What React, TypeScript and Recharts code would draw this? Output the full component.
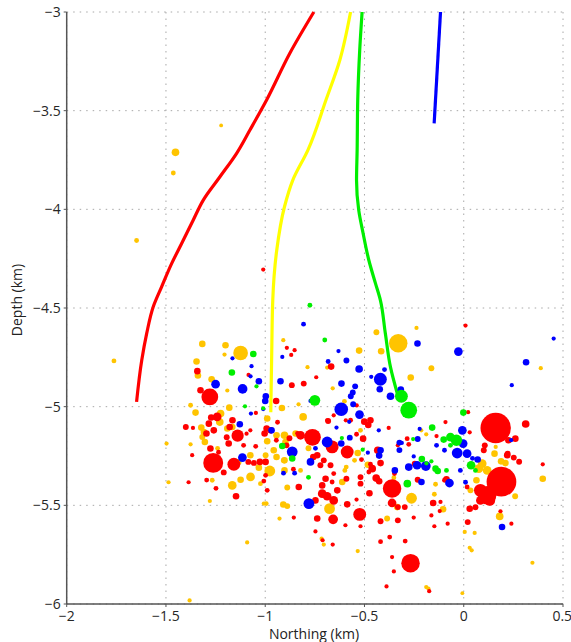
import { CartesianGrid, Scatter, ScatterChart, XAxis, YAxis } from 'recharts';

const X_TICKS = [-2, -1.5, -1, -0.5, 0, 0.5];
const Y_TICKS = [-6, -5.5, -5, -4.5, -4, -3.5, -3];

// well trajectories: [northing km, depth km]
const redWell = [
  [-0.755, -3.0], [-0.876, -3.209], [-0.993, -3.446], [-1.077, -3.598], [-1.144, -3.716],
  [-1.228, -3.835], [-1.312, -3.953], [-1.363, -4.055], [-1.421, -4.173], [-1.471, -4.274],
  [-1.522, -4.393], [-1.564, -4.494], [-1.597, -4.629], [-1.622, -4.765], [-1.648, -4.976],
];
const yellowWell = [
  [-0.57, -3.0], [-0.624, -3.243], [-0.694, -3.446], [-0.785, -3.7], [-0.861, -3.852],
  [-0.903, -3.987], [-0.942, -4.207], [-0.962, -4.46], [-0.967, -4.714], [-0.972, -5.028],
];
const greenWell = [
  [-0.512, -3.0], [-0.524, -3.193], [-0.534, -3.446], [-0.537, -3.7], [-0.54, -3.852],
  [-0.529, -4.004], [-0.507, -4.121], [-0.478, -4.258], [-0.445, -4.374], [-0.42, -4.46],
  [-0.395, -4.628], [-0.369, -4.8], [-0.335, -4.932],
];
const blueWell = [[-0.117, -3.0], [-0.149, -3.564]];

// events: [northing km, depth km, magnitude]
const redEvents = [
  [-1.01, -4.305, 0.06], [-1.342, -4.82, 0.4], [-1.084, -4.839, 0.06], [-1.326, -4.917, 0.4],
  [-1.279, -4.951, 1.85], [-0.866, -4.891, 0.3], [-0.806, -4.883, 0.3], [-0.743, -4.851, 0.06],
  [-0.891, -4.702, 0.06], [-0.852, -4.714, 0.06], [-0.869, -4.738, 0.06], [-1.242, -5.052, 0.7],
  [-0.945, -4.971, 0.4], [-1.047, -5.032, 0.06], [0.009, -4.589, 0.06], [-0.668, -4.797, 0.4],
  [-0.539, -4.994, 0.06], [-0.501, -5.076, 0.4], [-0.481, -5.093, 0.4], [-0.47, -5.069, 0.4],
  [-0.594, -5.069, 0.06], [0.022, -5.028, 0.06], [-0.683, -5.073, 0.3], [-0.762, -5.155, 1.85],
  [-0.822, -5.145, 0.7], [-0.587, -5.23, 1.3], [-0.663, -5.204, 1.3], [-0.378, -5.108, 0.06],
  [-0.332, -5.196, 0.06], [-0.137, -5.149, 0.06], [-0.092, -5.078, 0.06], [-0.507, -5.162, 0.4],
  [-0.515, -5.268, 0.15], [-0.433, -5.221, 0.55], [-0.419, -5.286, 0.4], [-0.47, -5.292, 0.15],
  [-0.478, -5.331, 0.15], [-0.285, -5.162, 0.15], [-0.277, -5.191, 0.15], [-0.247, -5.289, 0.3],
  [-0.232, -5.37, 0.3], [-0.361, -5.415, 2.1], [-0.52, -5.357, 0.3], [-0.591, -5.365, 0.3],
  [-0.637, -5.424, 0.4], [-0.696, -5.365, 0.4], [-0.713, -5.399, 0.4], [-0.663, -5.382, 0.15],
  [-0.738, -5.246, 0.4], [-0.758, -5.255, 0.4], [-0.705, -5.272, 0.3], [-0.722, -5.297, 0.3],
  [-0.671, -5.297, 0.3], [-0.655, -5.339, 0.15], [-0.57, -5.069, 0.15], [-0.54, -5.14, 0.15],
  [-0.688, -5.069, 0.06], [-0.655, -5.044, 0.06], [-0.524, -5.546, 1.3], [-0.658, -5.571, 0.85],
  [-0.361, -5.488, 0.7], [-0.268, -5.793, 2.1], [-0.713, -5.441, 0.7], [-0.688, -5.454, 0.7],
  [-0.655, -5.475, 0.7], [-0.747, -5.475, 0.4], [-0.856, -5.562, 0.06], [-0.738, -5.567, 0.4],
  [-0.747, -5.632, 0.06], [-0.711, -5.677, 0.06], [-0.66, -5.699, 0.06], [-0.596, -5.601, 0.06],
  [-0.52, -5.606, 0.06], [-0.419, -5.684, 0.15], [-0.373, -5.661, 0.15], [-0.295, -5.681, 0.15],
  [-0.361, -5.762, 0.06], [-0.352, -5.835, 0.06], [-0.389, -5.911, 0.06], [-0.174, -5.935, 0.06],
  [-0.419, -5.581, 0.3], [-0.332, -5.576, 0.3], [-0.252, -5.562, 0.06], [-0.332, -5.509, 0.3],
  [-0.297, -5.509, 0.3], [-0.475, -5.439, 0.4], [-0.426, -5.378, 0.4], [-0.52, -5.39, 0.3],
  [-0.54, -5.471, 0.06], [-0.587, -5.495, 0.4], [-0.461, -5.314, 0.55], [-0.441, -5.362, 0.55],
  [-0.349, -5.339, 0.15], [-0.154, -5.488, 0.4], [-0.117, -5.483, 0.06], [-0.121, -5.529, 0.06],
  [-0.163, -5.551, 0.06], [-0.148, -5.606, 0.06], [-0.081, -5.593, 0.06], [-0.087, -5.368, 0.4],
  [0.19, -5.38, 3.7], [0.118, -5.449, 2.1], [0.084, -5.424, 1.3], [0.131, -5.475, 1.0],
  [0.084, -5.475, 0.7], [0.161, -5.108, 3.8], [0.221, -5.238, 0.3], [0.252, -5.258, 0.3],
  [0.279, -5.279, 0.3], [0.185, -5.53, 0.06], [0.24, -5.593, 0.06], [0.02, -5.585, 0.3],
  [0.03, -5.517, 0.4], [0.059, -5.51, 0.3], [0.398, -5.292, 0.06], [0.03, -5.13, 0.06],
  [0.312, -5.088, 0.55], [0.225, -5.17, 0.4], [0.26, -5.162, 0.4], [0.106, -5.196, 0.3],
  [0.101, -5.221, 0.3], [0.219, -5.246, 0.4], [0.017, -5.407, 0.15], [-0.097, -5.373, 0.15],
  [-1.272, -5.055, 0.4], [-1.284, -5.086, 0.4], [-1.259, -5.12, 0.4], [-1.296, -5.136, 0.4],
  [-1.4, -5.103, 0.3], [-1.364, -5.108, 0.06], [-1.276, -5.212, 0.4], [-1.368, -5.246, 0.06],
  [-1.262, -5.285, 2.3], [-1.184, -5.187, 0.4], [-1.179, -5.103, 0.4], [-1.165, -5.069, 0.4],
  [-1.139, -5.147, 1.2], [-1.094, -5.137, 0.06], [-1.075, -5.12, 0.06], [-1.158, -5.292, 1.3],
  [-1.085, -5.28, 0.3], [-1.057, -5.285, 0.3], [-1.027, -5.28, 0.4], [-0.998, -5.28, 0.4],
  [-0.993, -5.111, 0.4], [-0.973, -5.12, 0.4], [-1.003, -5.136, 0.4], [-1.194, -5.155, 0.3],
  [-1.209, -5.333, 0.3], [-1.147, -5.454, 0.4], [-1.248, -5.414, 0.15], [-1.295, -5.372, 0.15],
  [-1.386, -5.383, 0.06], [-0.998, -5.348, 0.15], [-1.007, -5.377, 0.15], [-0.99, -5.424, 0.15],
  [-0.831, -5.407, 0.4], [-0.893, -5.196, 0.3], [-0.878, -5.16, 0.3], [-0.837, -5.135, 0.15],
  [-0.938, -5.079, 0.15], [-0.858, -5.317, 0.15], [-0.944, -5.17, 0.15], [-1.048, -5.201, 0.15],
  [-1.109, -5.196, 0.15], [-1.235, -5.231, 0.15],
];

const goldEvents = [
  [-1.452, -3.711, 0.55], [-1.463, -3.816, 0.15], [-1.222, -3.575, 0.0], [-1.648, -4.158, 0.15],
  [-1.762, -4.768, 0.15], [-1.317, -4.682, 0.4], [-1.2, -4.689, 0.4], [-1.124, -4.728, 1.55],
  [-1.205, -4.736, 0.06], [-1.346, -4.771, 0.4], [-1.339, -4.842, 0.4], [-1.27, -4.861, 0.4],
  [-1.191, -4.918, 0.06], [-0.787, -4.8, 0.06], [-0.909, -4.663, 0.06], [-1.376, -4.993, 0.15],
  [-1.351, -5.03, 0.4], [-1.181, -5.005, 0.4], [-0.916, -5.007, 0.4], [-0.809, -5.052, 0.55],
  [-0.832, -4.988, 0.06], [-0.33, -4.679, 2.1], [-0.238, -4.601, 0.06], [-0.44, -4.623, 0.3],
  [-0.527, -4.716, 0.4], [-0.416, -4.719, 0.4], [-0.688, -4.802, 0.06], [-0.163, -4.805, 0.3],
  [-0.267, -4.852, 0.4], [-0.66, -4.907, 0.06], [-0.601, -4.973, 0.15], [-0.847, -5.136, 0.4],
  [-0.214, -5.12, 0.06], [-0.189, -5.14, 0.06], [-0.534, -5.235, 0.4], [-0.352, -5.36, 0.15],
  [-0.263, -5.464, 1.0], [-0.612, -5.382, 0.4], [-0.599, -5.323, 0.15], [-0.592, -5.306, 0.15],
  [-0.676, -5.517, 1.0], [-0.716, -5.669, 0.06], [-0.705, -5.699, 0.06], [-0.534, -5.732, 0.06],
  [-0.189, -5.914, 0.06], [-0.178, -5.922, 0.06], [-0.007, -5.945, 0.0], [-0.386, -5.567, 0.3],
  [-0.335, -5.509, 0.4], [-0.483, -5.294, 0.4], [-0.104, -5.52, 0.4], [-0.148, -5.444, 0.15],
  [-0.142, -5.393, 0.15], [0.093, -5.289, 0.7], [0.076, -5.314, 0.7], [0.118, -5.323, 0.7],
  [0.151, -5.339, 0.4], [0.188, -5.277, 0.4], [0.21, -5.286, 0.4], [0.155, -5.238, 0.4],
  [0.181, -5.556, 0.55], [0.259, -5.454, 0.3], [0.005, -5.635, 0.06], [0.055, -5.64, 0.06],
  [0.03, -5.715, 0.06], [0.04, -5.728, 0.06], [0.346, -5.791, 0.06], [0.398, -5.365, 0.4],
  [0.388, -4.805, 0.06], [0.161, -5.204, 0.06], [0.064, -5.373, 0.4], [0.034, -5.424, 0.3],
  [-1.225, -5.035, 0.55], [-1.229, -5.078, 0.55], [-1.309, -5.128, 0.4], [-1.317, -5.154, 0.3],
  [-1.304, -5.179, 0.4], [-1.376, -5.191, 0.06], [-1.497, -5.187, 0.06], [-1.191, -5.111, 0.4],
  [-1.166, -5.103, 0.4], [-1.075, -5.246, 0.4], [-1.124, -5.37, 0.4], [-1.032, -5.309, 0.4],
  [-0.977, -5.326, 1.0], [-1.074, -5.356, 0.7], [-1.166, -5.399, 0.7], [-0.99, -5.06, 0.4],
  [-0.99, -5.175, 0.4], [-0.943, -5.145, 0.4], [-0.957, -5.221, 0.4], [-0.943, -5.255, 0.4],
  [-0.903, -5.272, 0.4], [-0.903, -5.145, 0.55], [-0.898, -5.179, 0.4], [-1.322, -5.106, 0.4],
  [-1.267, -5.373, 0.15], [-1.487, -5.383, 0.06], [-1.279, -5.478, 0.06], [-1.091, -5.688, 0.06],
  [-0.998, -5.246, 0.3], [-1.024, -5.39, 0.15], [-0.995, -5.491, 0.15], [-0.906, -5.272, 0.3],
  [-0.903, -5.323, 0.4], [-0.889, -5.41, 0.3], [-0.909, -5.496, 0.4], [-0.889, -5.504, 0.3],
  [-0.928, -5.567, 0.06], [-1.007, -5.491, 0.06], [-1.381, -5.982, 0.06], [-0.782, -5.211, 0.3],
  [-0.822, -5.323, 0.15], [-1.134, -5.28, 0.3], [-1.24, -5.211, 0.15], [-0.55, -5.272, 0.15],
  [-0.52, -5.12, 0.15],
];

const blueEvents = [
  [-0.807, -4.582, 0.15], [-1.165, -4.755, 0.06], [-1.069, -4.795, 0.06], [-1.074, -4.846, 0.06],
  [-1.032, -4.871, 0.4], [-1.25, -4.886, 0.7], [-1.114, -4.91, 0.85], [-0.997, -4.947, 0.4],
  [-1.0, -4.971, 0.4], [-0.923, -4.871, 0.4], [-0.914, -4.748, 0.06], [-0.772, -4.971, 0.06],
  [-1.072, -5.035, 0.06], [-0.233, -4.68, 0.4], [-0.027, -4.721, 0.7], [-0.631, -4.718, 0.06],
  [-0.683, -4.771, 0.15], [-0.591, -4.766, 0.3], [-0.527, -4.809, 0.55], [-0.399, -4.812, 0.15],
  [-0.42, -4.861, 1.3], [-0.466, -4.849, 0.06], [-0.616, -4.883, 0.4], [-0.547, -4.897, 0.3],
  [-0.559, -4.928, 0.3], [-0.569, -4.947, 0.3], [-0.423, -4.912, 0.4], [-0.369, -4.947, 0.55],
  [-0.317, -4.913, 0.4], [-0.557, -4.988, 0.3], [-0.617, -5.013, 1.4], [-0.525, -5.04, 0.7],
  [-0.577, -5.077, 0.06], [-0.688, -5.179, 1.0], [-0.617, -5.187, 0.4], [-0.428, -5.12, 0.06],
  [-0.324, -5.182, 0.3], [-0.324, -5.22, 0.3], [-0.232, -5.164, 0.3], [-0.222, -5.113, 0.06],
  [-0.007, -5.12, 0.7], [-0.003, -5.187, 0.7], [-0.033, -5.235, 1.0], [-0.252, -5.252, 0.06],
  [-0.426, -5.248, 0.4], [-0.419, -5.221, 0.4], [-0.574, -5.157, 0.3], [-0.483, -5.233, 0.06],
  [-0.312, -5.184, 0.06], [-0.347, -5.323, 0.4], [-0.277, -5.306, 0.55], [-0.235, -5.297, 0.7],
  [-0.191, -5.301, 0.85], [-0.072, -5.387, 0.7], [-0.285, -5.39, 0.4], [-0.772, -5.28, 0.55],
  [-0.641, -5.106, 0.06], [-0.864, -5.229, 1.0], [-0.213, -5.382, 0.4], [-0.78, -5.491, 1.0],
  [0.193, -5.61, 0.4], [0.453, -4.655, 0.06], [0.314, -4.775, 0.4], [0.242, -4.891, 0.06],
  [0.239, -5.17, 0.06], [0.017, -5.238, 0.7], [0.07, -5.268, 0.4], [0.044, -5.262, 0.15],
  [-0.017, -5.323, 0.15], [0.009, -5.383, 0.15], [-1.128, -5.089, 0.4], [-1.115, -5.258, 0.7],
  [-0.968, -5.12, 0.4], [-1.01, -5.012, 0.06], [-0.747, -5.211, 0.15], [-0.908, -5.337, 0.15],
  [-0.852, -5.337, 0.15], [-0.137, -5.196, 0.15], [-0.097, -5.221, 0.15],
];

const greenEvents = [
  [-0.775, -4.486, 0.15], [-0.7, -4.662, 0.15], [-1.06, -4.733, 0.4], [-1.168, -4.827, 0.4],
  [-1.044, -4.897, 0.06], [-0.75, -4.968, 1.0], [-1.102, -4.998, 0.06], [-1.01, -5.008, 0.06],
  [-0.314, -4.947, 1.3], [-0.277, -5.018, 1.85], [-0.002, -5.03, 0.4], [-0.614, -5.159, 0.06],
  [-0.509, -5.218, 0.06], [-0.255, -5.164, 0.06], [-0.159, -5.106, 0.4], [-0.101, -5.167, 0.4],
  [-0.037, -5.17, 1.1], [-0.067, -5.154, 0.7], [-0.211, -5.265, 0.4], [-0.142, -5.314, 0.4],
  [-0.131, -5.326, 0.4], [-0.188, -5.287, 0.06], [-0.163, -5.277, 0.06], [-0.284, -5.39, 0.55],
  [0.037, -5.297, 0.7], [-0.914, -5.199, 0.4], [-0.864, -5.263, 0.4], [-0.782, -5.358, 0.15],
  [-0.067, -5.196, 0.15], [0.059, -5.323, 0.15], [-0.087, -5.323, 0.15],
];

const toTrack = (rows: number[][]) => rows.map(([x, d]) => ({ x, d }));
const toEvents = (rows: number[][]) => rows.map(([x, d, m]) => ({ x, d, m }));

const fmt = (v: number) => (v < 0 ? `\u2212${Math.abs(v)}` : `${v}`);

const dot = (color: string) => (props: any) => (
  <circle cx={props.cx} cy={props.cy} r={1.9 + 3.5 * (props.payload?.m ?? 0)} fill={color} />
);
const noDot = () => <g />;

const FONT = "'Open Sans', sans-serif";
const tickStyle = { fill: '#262626', fontSize: 14, fontFamily: FONT };

export default function App() {
  const wells = [
    { data: redWell, color: '#ff0000' },
    { data: yellowWell, color: '#ffff00' },
    { data: greenWell, color: '#00ee00' },
    { data: blueWell, color: '#0000ff' },
  ];
  const events = [
    { data: goldEvents, color: '#ffc400' },
    { data: redEvents, color: '#ff0000' },
    { data: blueEvents, color: '#0000ff' },
    { data: greenEvents, color: '#00ee00' },
  ];

  return (
    <div style={{ position: 'fixed', left: 0, top: 0, width: 571, height: 642, background: '#fff' }}>
      <ScatterChart width={571} height={642} margin={{ top: 12, right: 8, bottom: 0, left: 0 }}>
        <CartesianGrid stroke="#a8a8a8" strokeDasharray="1.5 5" />
        <XAxis
          type="number"
          dataKey="x"
          domain={[-2, 0.5]}
          ticks={X_TICKS}
          tickFormatter={fmt}
          tick={tickStyle}
          tickSize={3}
          tickMargin={4}
          height={38}
          axisLine={{ stroke: '#555', strokeWidth: 1.5 }}
          tickLine={{ stroke: '#555' }}
          label={{
            content: () => (
              <text x={314} y={639} textAnchor="middle" fill="#222" fontSize={14} fontFamily={FONT}>
                Northing (km)
              </text>
            ),
          }}
        />
        <YAxis
          type="number"
          dataKey="d"
          domain={[-6, -3]}
          ticks={Y_TICKS}
          tickFormatter={fmt}
          tick={tickStyle}
          tickSize={3}
          tickMargin={3}
          width={66.7}
          axisLine={{ stroke: '#555', strokeWidth: 1.5 }}
          tickLine={{ stroke: '#555' }}
          label={{
            content: () => (
              <text
                x={22}
                y={300}
                transform="rotate(-90 22 300)"
                textAnchor="middle"
                fill="#222"
                fontSize={14}
                fontFamily={FONT}
              >
                Depth (km)
              </text>
            ),
          }}
        />
        {wells.map((w, i) => (
          <Scatter
            key={`well-${i}`}
            data={toTrack(w.data)}
            line={{ stroke: w.color, strokeWidth: 3.2 }}
            lineType="joint"
            lineJointType="monotoneY"
            shape={noDot}
            isAnimationActive={false}
          />
        ))}
        {events.map((e, i) => (
          <Scatter
            key={`ev-${i}`}
            data={toEvents(e.data)}
            shape={dot(e.color)}
            isAnimationActive={false}
          />
        ))}
      </ScatterChart>
    </div>
  );
}
